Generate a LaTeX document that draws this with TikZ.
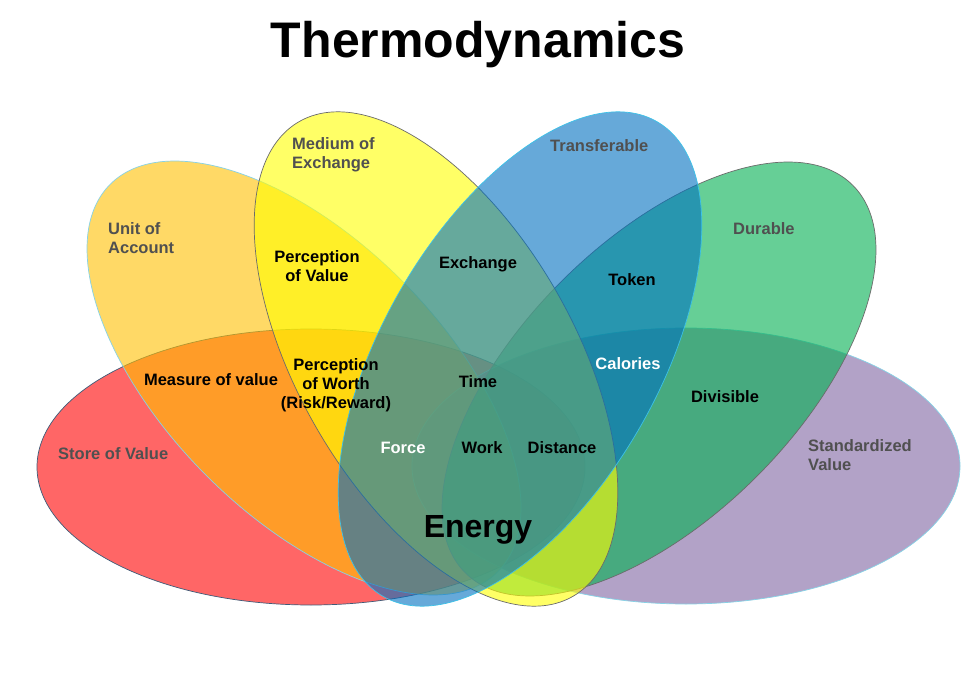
\documentclass[tikz,border=0pt]{standalone}
\usepackage{fontspec}
\setmainfont{Liberation Sans}
\usetikzlibrary{positioning}
\definecolor{store}{HTML}{FF0000}
\definecolor{unit}{HTML}{FFC000}
\definecolor{medium}{HTML}{FFFF00}
\definecolor{transfer}{HTML}{0070C0}
\definecolor{durable}{HTML}{00B050}
\definecolor{standard}{HTML}{8064A2}
\definecolor{muted}{HTML}{505050}
\definecolor{rimdark}{HTML}{3E5B78}
\definecolor{rimcyan}{HTML}{86D2E6}
\definecolor{rimgray}{HTML}{6B6B6B}
\definecolor{rimblue}{HTML}{3CC2E8}

\begin{document}
\begin{tikzpicture}[x=1pt,y=1pt,
  petal/.style={fill opacity=.6,line width=.7pt},
  lbl/.style={font=\fontsize{16.5}{19}\selectfont\bfseries,inner sep=0pt},
  side/.style={lbl,text=muted,align=left,anchor=west},
  core/.style={lbl,text=black,align=center}]
\fill[white] (0,0) rectangle (973,683);
\useasboundingbox (0,0) rectangle (973,683);
% petals, bottom one first
\foreach \fc/\rc/\cx/\cy/\rot in {store/rimdark/311/216/0,standard/rimcyan/686/217/0,
    unit/rimcyan/304/305/-45,durable/rimgray/659/304/45,
    medium/rimgray/436/324/-60,transfer/rimblue/520/324/60}
  \draw[petal,fill=\fc,draw=\rc,rotate around={\rot:(\cx,\cy)}] (\cx,\cy) ellipse (274pt and 138pt);
\node[font=\fontsize{50}{56}\selectfont\bfseries,anchor=base] (title) at (478,625) {Thermodynamics};
% outer labels
\node[side] (sov) at (58,229) {Store of Value};
\node[side] (uoa) at (108,445) {Unit of\\Account};
\node[side] (moe) at (292,528) {Medium of\\Exchange};
\node[side] (trf) at (550,537) {Transferable};
\node[side] (dur) at (733,454) {Durable};
\node[side] (stv) at (808,228) {Standardized\\Value};
% overlaps
\node[core] (pov) at (317,417) {Perception\\of Value};
\node[core] (exc) at (478,419) {Exchange};
\node[core] (tok) at (632,403) {Token};
\node[core] (mov) at (211,303) {Measure of value};
\node[core] (pow) at (336,298) {Perception\\of Worth\\(Risk/Reward)};
\node[core] (tim) at (478,301) {Time};
\node[core,text=white] (cal) at (628,319) {Calories};
\node[core] (div) at (725,286) {Divisible};
\node[core,text=white] (frc) at (403,235) {Force};
\node[core] (wrk) at (482,235) {Work};
\node[core] (dst) at (562,235) {Distance};
\node[font=\fontsize{32}{36}\selectfont\bfseries,anchor=base] (nrg) at (478,146) {Energy};
\end{tikzpicture}
\end{document}
